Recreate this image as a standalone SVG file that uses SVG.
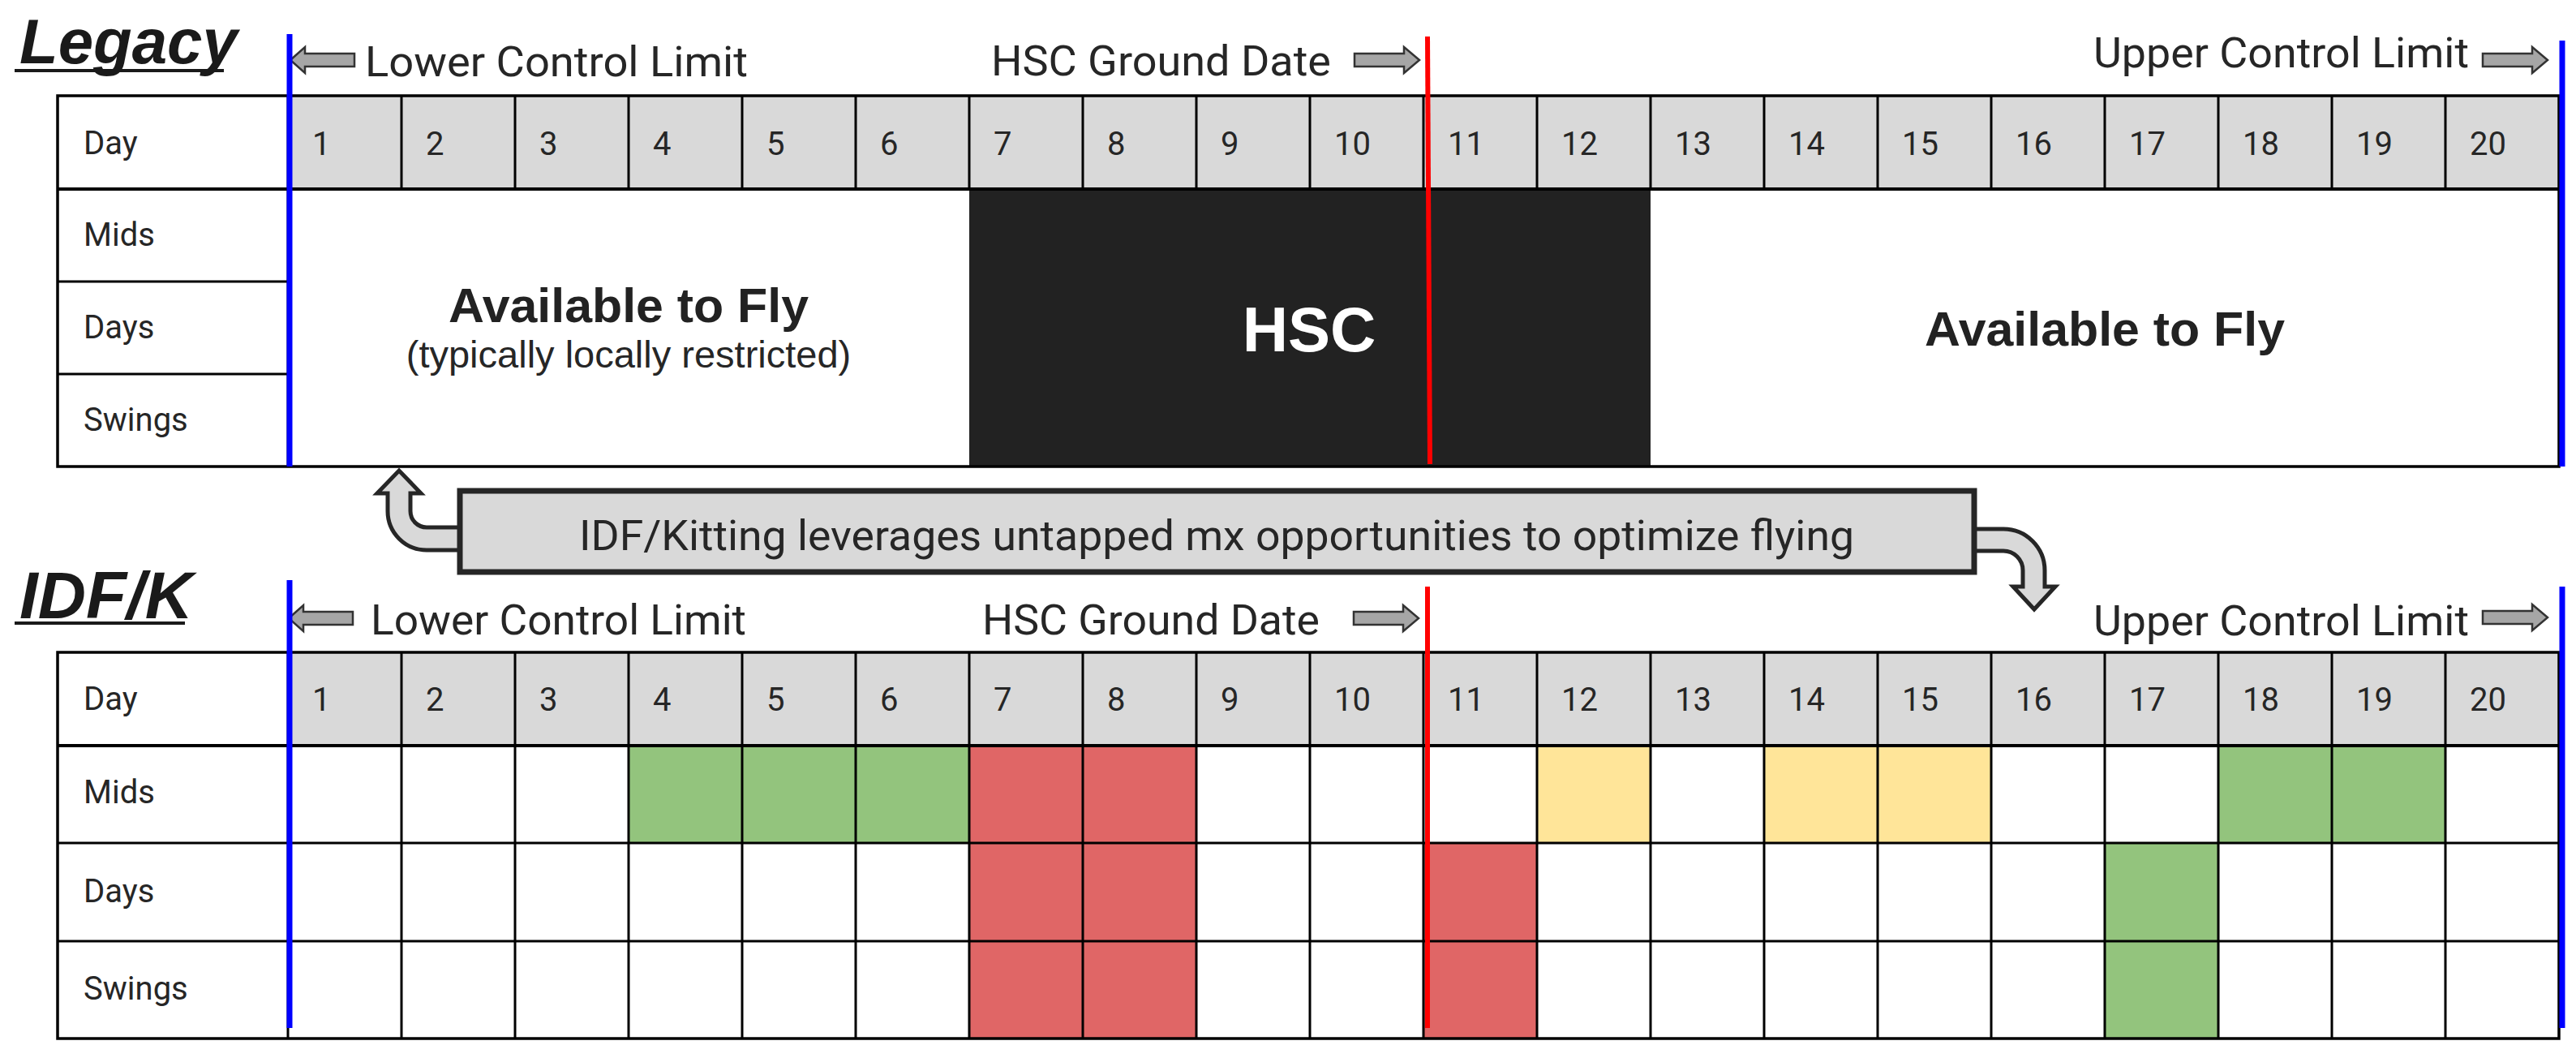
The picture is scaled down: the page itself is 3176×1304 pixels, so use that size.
<svg xmlns="http://www.w3.org/2000/svg" width="3176" height="1304" viewBox="0 0 3176 1304">
<style>
.bg{fill:#ffffff}
.hdr{fill:#d9d9d9}
.grid{fill:none;stroke:#000;stroke-width:3}
.frame{fill:none;stroke:#000;stroke-width:3.5}
.lbl{font-family:Roboto,"Liberation Sans",Arial,sans-serif;font-size:40px;fill:#262626}
.cap{font-family:Roboto,"Liberation Sans",Arial,sans-serif;font-size:52px;fill:#262626}
.title{font-family:"Liberation Sans",Arial,sans-serif;font-weight:bold;font-style:italic;fill:#1a1a1a}
.big{font-family:"Liberation Sans",Arial,sans-serif;font-weight:bold;font-size:60px;fill:#222;text-anchor:middle}
.sub{font-family:"Liberation Sans",Arial,sans-serif;font-size:47px;fill:#262626;text-anchor:middle}
.hsc{font-family:"Liberation Sans",Arial,sans-serif;font-weight:bold;font-size:78px;fill:#fff;text-anchor:middle}
.blk{fill:#a6a6a6;stroke:#333;stroke-width:2.5}
.blue{stroke:#0000ff;stroke-width:7}
.red{stroke:#ff0000;stroke-width:6}
.green{fill:#93c47d}
.redc{fill:#e06666}
.yel{fill:#ffe599}
.uarrow{fill:#d9d9d9;stroke:#262626;stroke-width:5;stroke-linejoin:miter}
.banner{fill:#d9d9d9;stroke:#262626;stroke-width:7}
</style>
<defs>
<path id="arrR" d="M0,-8 H61 V-16 L80,0 L61,16 V8 H0 Z"/>
<path id="arrL" d="M0,0 L18,-16 V-8 H79 V8 H18 V16 Z"/>
</defs>
<rect class="bg" x="0" y="0" width="3176" height="1304"/>

<!-- Legacy title -->
<g id="legacy-title">
<text class="title" x="24" y="78" font-size="78">Legacy</text>
<line x1="18" y1="87" x2="276" y2="87" stroke="#1a1a1a" stroke-width="4"/>
</g>

<!-- Legacy limit labels -->
<g id="legacy-limits">
<use href="#arrL" class="blk" x="358" y="74"/>
<text class="cap" x="450" y="94" textLength="472" lengthAdjust="spacingAndGlyphs">Lower Control Limit</text>
<text class="cap" x="1222" y="93" textLength="419" lengthAdjust="spacingAndGlyphs">HSC Ground Date</text>
<use href="#arrR" class="blk" x="1670" y="74"/>
<text class="cap" x="2581" y="83" textLength="463" lengthAdjust="spacingAndGlyphs">Upper Control Limit</text>
<use href="#arrR" class="blk" x="3061" y="74"/>
</g>

<!-- Legacy table -->
<g id="legacy-table">
<rect class="bg" x="71" y="118" width="3084" height="457"/>
<rect class="hdr" x="355" y="118" width="2800" height="115"/>
<rect x="1195" y="233" width="840" height="342" fill="#222"/>
<path class="grid" d="M495,118V233M635,118V233M775,118V233M915,118V233M1055,118V233M1195,118V233M1335,118V233M1475,118V233M1615,118V233M1755,118V233M1895,118V233M2035,118V233M2175,118V233M2315,118V233M2455,118V233M2595,118V233M2735,118V233M2875,118V233M3015,118V233"/>
<path class="grid" d="M71,347H355M71,461H355M355,118V575"/>
<line x1="71" y1="233" x2="3155" y2="233" stroke="#000" stroke-width="4"/>
<rect class="frame" x="71" y="118" width="3084" height="457"/>
<text class="lbl" x="103" y="190">Day</text>
<text class="lbl" x="103" y="303">Mids</text>
<text class="lbl" x="103" y="417">Days</text>
<text class="lbl" x="103" y="531">Swings</text>
<g class="lbl">
<text x="385" y="191">1</text><text x="525" y="191">2</text><text x="665" y="191">3</text><text x="805" y="191">4</text><text x="945" y="191">5</text><text x="1085" y="191">6</text><text x="1225" y="191">7</text><text x="1365" y="191">8</text><text x="1505" y="191">9</text><text x="1645" y="191">10</text><text x="1785" y="191">11</text><text x="1925" y="191">12</text><text x="2065" y="191">13</text><text x="2205" y="191">14</text><text x="2345" y="191">15</text><text x="2485" y="191">16</text><text x="2625" y="191">17</text><text x="2765" y="191">18</text><text x="2905" y="191">19</text><text x="3045" y="191">20</text>
</g>
<text class="big" x="775" y="397" textLength="444" lengthAdjust="spacingAndGlyphs">Available to Fly</text>
<text class="sub" x="775" y="453">(typically locally restricted)</text>
<text class="hsc" x="1614" y="433">HSC</text>
<text class="big" x="2595" y="426" textLength="444" lengthAdjust="spacingAndGlyphs">Available to Fly</text>
</g>

<!-- Legacy markers -->
<g id="legacy-markers">
<line class="blue" x1="357" y1="42" x2="357" y2="575"/>
<line class="blue" x1="3159" y1="50" x2="3159" y2="575"/>
<line class="red" x1="1760" y1="45" x2="1763" y2="572"/>
</g>

<!-- connectors -->
<g id="connectors">
<path class="uarrow" d="M568,650 H526 A20,20 0 0 1 506,630 V608 H519 L492,580 L465,608 H478 V630 A48,48 0 0 0 526,678 H568 Z"/>
<path class="uarrow" d="M2432,652 H2470 A51,51 0 0 1 2521,703 V723 H2534 L2508,751 L2482,723 H2494 V703 A24,24 0 0 0 2470,679 H2432 Z"/>
</g>

<!-- banner -->
<g id="banner">
<rect class="banner" x="567" y="605" width="1867" height="100"/>
<text class="cap" x="714" y="678" font-size="53" textLength="1572" lengthAdjust="spacingAndGlyphs">IDF/Kitting leverages untapped mx opportunities to optimize flying</text>
</g>

<!-- IDF/K title -->
<g id="idfk-title">
<text class="title" x="24" y="762" font-size="82">IDF/K</text>
<line x1="18" y1="768" x2="228" y2="768" stroke="#1a1a1a" stroke-width="4"/>
</g>

<!-- IDF/K limit labels -->
<g id="idfk-limits">
<use href="#arrL" class="blk" x="356" y="762"/>
<text class="cap" x="457" y="782" textLength="463" lengthAdjust="spacingAndGlyphs">Lower Control Limit</text>
<text class="cap" x="1211" y="782" textLength="416" lengthAdjust="spacingAndGlyphs">HSC Ground Date</text>
<use href="#arrR" class="blk" x="1669" y="762"/>
<text class="cap" x="2581" y="783" textLength="463" lengthAdjust="spacingAndGlyphs">Upper Control Limit</text>
<use href="#arrR" class="blk" x="3061" y="761"/>
</g>

<!-- IDF/K table -->
<g id="idfk-table">
<rect class="bg" x="71" y="804" width="3084" height="476"/>
<rect class="hdr" x="355" y="804" width="2800" height="115"/>
<rect class="green" x="775" y="919" width="420" height="120"/>
<rect class="redc" x="1195" y="919" width="280" height="361"/>
<rect class="yel" x="1895" y="919" width="140" height="120"/>
<rect class="yel" x="2175" y="919" width="280" height="120"/>
<rect class="green" x="2735" y="919" width="280" height="120"/>
<rect class="redc" x="1755" y="1039" width="140" height="241"/>
<rect class="green" x="2595" y="1039" width="140" height="241"/>
<path class="grid" d="M355,804V1280M495,804V1280M635,804V1280M775,804V1280M915,804V1280M1055,804V1280M1195,804V1280M1335,804V1280M1475,804V1280M1615,804V1280M1755,804V1280M1895,804V1280M2035,804V1280M2175,804V1280M2315,804V1280M2455,804V1280M2595,804V1280M2735,804V1280M2875,804V1280M3015,804V1280"/>
<path class="grid" d="M71,1039H3155M71,1160H3155"/>
<line x1="71" y1="919" x2="3155" y2="919" stroke="#000" stroke-width="4"/>
<rect class="frame" x="71" y="804" width="3084" height="476"/>
<text class="lbl" x="103" y="875">Day</text>
<text class="lbl" x="103" y="990">Mids</text>
<text class="lbl" x="103" y="1112">Days</text>
<text class="lbl" x="103" y="1232">Swings</text>
<g class="lbl">
<text x="385" y="876">1</text><text x="525" y="876">2</text><text x="665" y="876">3</text><text x="805" y="876">4</text><text x="945" y="876">5</text><text x="1085" y="876">6</text><text x="1225" y="876">7</text><text x="1365" y="876">8</text><text x="1505" y="876">9</text><text x="1645" y="876">10</text><text x="1785" y="876">11</text><text x="1925" y="876">12</text><text x="2065" y="876">13</text><text x="2205" y="876">14</text><text x="2345" y="876">15</text><text x="2485" y="876">16</text><text x="2625" y="876">17</text><text x="2765" y="876">18</text><text x="2905" y="876">19</text><text x="3045" y="876">20</text>
</g>
</g>

<!-- IDF/K markers -->
<g id="idfk-markers">
<line class="blue" x1="357" y1="715" x2="357" y2="1267"/>
<line class="blue" x1="3159" y1="723" x2="3159" y2="1267"/>
<line class="red" x1="1760" y1="723" x2="1760" y2="1267"/>
</g>
</svg>
